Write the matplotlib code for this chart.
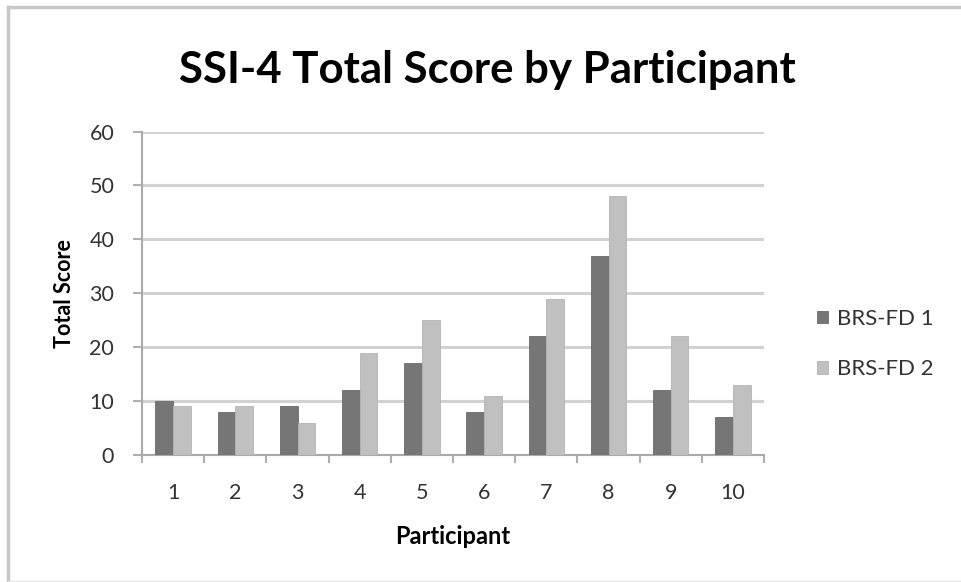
import matplotlib
matplotlib.use('Agg')
import matplotlib.pyplot as plt
from matplotlib.lines import Line2D
import numpy as np

participants = ['1', '2', '3', '4', '5', '6', '7', '8', '9', '10']
brs_fd_1 = [10, 8, 9, 12, 17, 8, 22, 37, 12, 7]
brs_fd_2 = [9, 9, 6, 19, 25, 11, 29, 48, 22, 13]
series_names = ['BRS-FD 1', 'BRS-FD 2']
y_ticks = [0, 10, 20, 30, 40, 50, 60]

plt.rcParams['font.family'] = ['Lato', 'DejaVu Sans']

W, H = 961, 582
fig = plt.figure(figsize=(W / 100, H / 100), dpi=100)
fig.patch.set_facecolor('white')

# plot area in pixels -> figure fractions
left, right, top, bottom = 142, 764, 131.5, 455
ax = fig.add_axes([left / W, 1 - bottom / H, (right - left) / W, (bottom - top) / H])

x = np.arange(len(participants))
bw = 0.286
ax.bar(x - bw / 2, brs_fd_1, bw, color='#767676', edgecolor='#6a6a6a', linewidth=0.6,
       label=series_names[0], zorder=3)
ax.bar(x + bw / 2, brs_fd_2, bw, color='#c0c0c0', edgecolor='#b4b4b4', linewidth=0.6,
       label=series_names[1], zorder=3)

ax.set_xlim(-0.5, len(participants) - 0.5)
ax.set_ylim(0, 60)
ax.set_yticks(y_ticks)
ax.set_yticklabels([str(v) for v in y_ticks])
ax.yaxis.grid(True, color='#d2d2d2', linewidth=2.2, zorder=0)
ax.set_axisbelow(True)

ax.set_xticks(x)
ax.set_xticklabels(participants)
ax.set_xticks(np.arange(-0.5, len(participants)), minor=True)
ax.tick_params(axis='x', which='major', length=0, pad=20, labelsize=15.5, labelcolor='#333333')
ax.tick_params(axis='x', which='minor', length=6, width=1.5, color='#b0b0b0')
ax.tick_params(axis='y', length=6.5, width=1.5, color='#b0b0b0', pad=13.5, labelsize=15.5,
               labelcolor='#333333')

for s in ['top', 'right']:
    ax.spines[s].set_visible(False)
for s in ['left', 'bottom']:
    ax.spines[s].set_color('#aaaaaa')
    ax.spines[s].set_linewidth(1.5)

ax.set_xlabel('Participant', fontsize=17, fontweight='bold', labelpad=16)
ax.set_ylabel('Total Score', fontsize=15.5, fontweight='bold', labelpad=10)

fig.text(0.5 * (178 + 797) / W, 1 - 83 / H, 'SSI-4 Total Score by Participant',
         ha='center', va='baseline', fontsize=31.5, fontweight='bold')

fig.legend(loc='center left', bbox_to_anchor=(817 / W, 1 - 344 / H), frameon=False,
           fontsize=16, handlelength=0.5, handleheight=0.5, handletextpad=0.4,
           labelspacing=1.36, borderpad=0, borderaxespad=0, labelcolor='#333333')

# outer chart frame
fc = '#c8c8c8'
fig.add_artist(Line2D([8 / W, 1], [1 - 7 / H, 1 - 7 / H], color=fc, linewidth=2.5))
fig.add_artist(Line2D([8 / W, 8 / W], [0, 1 - 7 / H], color=fc, linewidth=2.5))
fig.add_artist(Line2D([8 / W, 1], [1 / H, 1 / H], color='#e6e6e6', linewidth=1))

fig.savefig('out.png', dpi=100)
